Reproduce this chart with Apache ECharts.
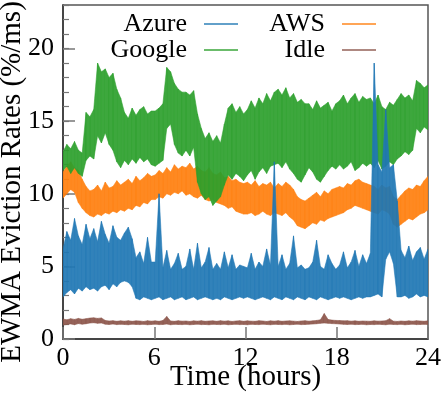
<!DOCTYPE html>
<html>
<head>
<meta charset="utf-8">
<script src="https://cdn.jsdelivr.net/npm/echarts@6/dist/echarts.min.js"></script>
<style>
  html, body { margin: 0; padding: 0; background: #fff; }
  #chart { width: 444px; height: 395px; }
</style>
</head>
<body>
<div id="chart"></div>
<script>
const azureHi = [
  6.2, 7.4, 6.8, 8.3, 7.1, 6.5, 7.9, 6.9,
  7.6, 6.7, 8.1, 7.2, 6.6, 7.8, 7.0, 6.8,
  7.3, 7.7, 6.9, 5.6, 6.0, 5.2, 7.0, 5.3,
  5.3, 10.0, 4.9, 6.1, 4.8, 5.2, 5.9, 4.8,
  5.0, 6.2, 4.8, 6.6, 4.9, 5.3, 6.3, 4.8,
  5.2, 4.8, 6.0, 4.9, 5.8, 4.8, 5.1, 5.0,
  4.9, 5.9, 4.8, 5.3, 5.0, 6.2, 5.1, 12.2,
  5.0, 5.8, 4.8, 5.2, 7.1, 4.9, 5.1, 4.8,
  4.9, 5.3, 6.8, 5.0, 4.8, 5.8, 5.2, 4.8,
  5.1, 6.0, 4.9, 5.3, 6.1, 5.0, 5.8, 5.2,
  5.9, 19.0, 12.0, 11.5, 15.8, 11.8, 12.0, 9.5,
  6.1, 5.6, 6.4, 5.4, 6.0, 6.3, 5.5, 6.2
];
const azureLo = [
  2.9, 3.2, 3.4, 3.1, 3.5, 3.3, 3.6, 3.4,
  3.5, 3.3, 3.6, 3.7, 3.4, 3.8, 3.6, 3.9,
  4.0, 3.9, 3.6, 2.8, 2.7, 2.9, 2.8, 2.7,
  2.8, 2.9, 2.7, 2.8, 2.9, 2.7, 2.8, 2.9,
  2.7, 2.8, 2.9, 2.7, 2.8, 2.9, 2.8, 2.7,
  2.8, 2.7, 2.9, 2.8, 2.7, 2.8, 2.9, 2.8,
  2.9, 2.8, 2.7, 2.8, 2.9, 2.8, 2.7, 2.9,
  2.8, 2.7, 2.9, 2.8, 2.7, 2.9, 2.8, 2.7,
  2.9, 2.8, 2.7, 2.9, 2.8, 2.7, 2.8, 2.9,
  2.8, 2.9, 2.8, 2.7, 2.8, 2.9, 2.8, 2.9,
  2.9, 3.0, 3.1, 2.9, 5.5, 6.0, 5.2, 2.9,
  2.9, 3.0, 2.8, 2.9, 3.1, 2.9, 3.0, 2.9
];

const awsHi = [
  11.5, 11.9, 12.2, 11.8, 11.6, 11.0, 10.5, 10.2,
  10.3, 10.6, 10.2, 10.8, 10.4, 10.5, 10.9, 10.6,
  10.8, 11.0, 10.7, 11.2, 10.9, 11.1, 11.4, 11.2,
  11.3, 11.6, 11.4, 11.8, 11.5, 12.0, 11.7, 11.9,
  11.8, 12.1, 11.7, 11.9, 11.6, 11.5, 11.8, 11.4,
  11.3, 11.5, 11.1, 11.2, 10.9, 11.0, 10.8, 10.7,
  10.8, 10.6, 10.9, 10.5, 10.7, 10.6, 10.8, 10.4,
  10.7, 10.5, 10.8, 10.6, 10.3, 9.8, 9.6, 9.5,
  9.7, 9.9, 10.1, 9.8, 10.2, 10.0, 10.3, 10.4,
  10.5, 10.4, 10.7, 10.6, 10.9, 11.0, 10.8, 10.7,
  10.6, 10.5, 10.3, 10.6, 10.4, 10.5, 9.8, 9.6,
  9.9, 10.2, 10.4, 10.3, 10.6, 10.5, 10.9, 11.2
];
const awsLo = [
  9.7, 10.0, 10.3, 10.1, 9.4, 9.0, 8.7, 8.5,
  8.4, 8.6, 8.5, 8.7, 8.6, 8.8, 8.7, 8.9,
  8.8, 9.0, 8.9, 9.2, 9.1, 9.4, 9.3, 9.6,
  9.6, 9.8, 9.7, 10.0, 9.9, 10.1, 10.0, 10.2,
  9.9, 10.0, 9.8, 9.7, 9.9, 9.6, 9.5, 9.6,
  9.4, 9.3, 9.2, 9.0, 9.1, 8.8, 8.7, 8.6,
  8.6, 8.7, 8.5, 8.6, 8.8, 8.6, 8.5, 8.7,
  8.6, 8.5, 8.7, 8.4, 8.2, 7.8, 7.7, 7.6,
  7.8, 8.0, 7.9, 8.2, 8.1, 8.3, 8.4, 8.5,
  8.6, 8.7, 8.9, 9.0, 9.2, 9.1, 9.0, 8.9,
  8.8, 8.7, 8.6, 8.9, 8.8, 8.6, 7.9, 7.7,
  7.9, 8.1, 8.3, 8.2, 8.4, 8.6, 8.7, 8.9
];

const googleHi = [
  12.9, 13.4, 13.1, 13.6, 13.0, 12.8, 15.6, 15.3,
  15.8, 19.0, 18.4, 18.6, 18.0, 18.3, 17.2, 16.6,
  15.6, 15.2, 15.9, 15.4, 15.8, 16.0, 15.5, 15.7,
  15.7, 15.9, 16.2, 18.7, 18.4, 17.6, 17.2, 17.0,
  17.0, 16.8, 17.1, 15.5, 14.5, 13.8, 14.2, 13.6,
  14.0, 13.5, 14.8, 15.9, 16.2, 15.6, 16.0, 15.5,
  15.8, 16.4, 15.9, 16.6, 16.2, 16.9, 16.4, 17.0,
  17.2, 16.8, 17.3, 16.6, 16.9, 16.3, 16.5, 16.2,
  16.2, 15.8, 16.4, 15.9, 16.1, 16.3, 15.7, 16.2,
  16.4, 16.8, 16.2, 16.6, 16.9, 16.3, 16.7, 16.5,
  16.6, 16.2, 16.8, 16.0, 15.8, 16.3, 16.1, 16.5,
  16.9, 16.6, 16.8, 16.4, 17.8, 17.6, 17.3, 17.5
];
const googleLo = [
  11.6, 11.9, 11.4, 11.8, 11.4, 11.2, 12.3, 12.6,
  12.4, 14.0, 13.5, 14.2, 13.4, 13.0, 12.2, 11.8,
  12.3, 12.0, 12.4, 12.1, 12.5, 12.2, 12.4, 12.0,
  11.9, 12.1, 12.3, 14.5, 14.8, 13.4, 12.8, 12.6,
  13.0, 12.6, 13.2, 10.8, 10.0, 9.6, 9.8, 9.2,
  9.5, 9.8, 10.6, 11.3, 11.0, 11.4, 11.2, 10.9,
  11.3, 11.6, 11.0, 11.5, 11.8, 11.4, 11.9, 12.0,
  12.1, 11.8, 12.2, 11.7, 11.4, 11.0, 10.8, 11.3,
  11.8, 11.5, 11.0, 10.8, 11.2, 11.6, 11.9, 11.7,
  12.0, 11.7, 11.9, 12.2, 11.6, 11.8, 12.1, 11.9,
  12.1, 11.8, 12.3, 11.7, 11.9, 12.2, 12.0, 12.4,
  12.6, 12.9, 12.7, 13.0, 14.5, 14.2, 14.6, 14.4
];

const idleHi = [
  1.38, 1.32, 1.40, 1.35, 1.42, 1.36, 1.40, 1.44,
  1.46, 1.42, 1.45, 1.28, 1.24, 1.26, 1.22, 1.25,
  1.23, 1.26, 1.22, 1.25, 1.24, 1.21, 1.26, 1.23,
  1.25, 1.22, 1.27, 1.55, 1.24, 1.22, 1.26, 1.23,
  1.24, 1.21, 1.25, 1.23, 1.26, 1.22, 1.24, 1.25,
  1.22, 1.26, 1.23, 1.25, 1.21, 1.24, 1.26, 1.22,
  1.25, 1.23, 1.22, 1.26, 1.24, 1.21, 1.25, 1.23,
  1.26, 1.22, 1.24, 1.25, 1.23, 1.21, 1.24, 1.26,
  1.23, 1.25, 1.28, 1.32, 1.75, 1.34, 1.30, 1.28,
  1.27, 1.25, 1.26, 1.23, 1.25, 1.22, 1.24, 1.23,
  1.22, 1.25, 1.23, 1.24, 1.26, 1.40, 1.23, 1.21,
  1.24, 1.22, 1.25, 1.23, 1.26, 1.24, 1.22, 1.25
];
const idleLo = [
  0.96, 1.00, 1.04, 0.98, 1.06, 1.02, 1.05, 1.10,
  1.12, 1.08, 1.10, 1.02, 1.00, 1.03, 0.99, 1.01,
  1.00, 0.98, 1.02, 1.00, 0.99, 1.01, 0.98, 1.00,
  1.02, 0.99, 1.00, 1.03, 0.98, 1.01, 1.00, 0.99,
  1.01, 0.98, 1.00, 1.02, 0.99, 1.00, 0.98, 1.01,
  1.00, 0.99, 1.02, 0.98, 1.00, 1.01, 0.99, 1.00,
  0.98, 1.01, 1.00, 0.99, 1.02, 1.00, 0.98, 1.01,
  1.00, 0.99, 1.01, 0.98, 1.00, 1.02, 0.99, 1.00,
  1.02, 1.03, 1.05, 1.08, 1.10, 1.08, 1.06, 1.05,
  1.03, 1.01, 1.00, 1.02, 0.99, 1.00, 1.01, 0.98,
  1.00, 0.99, 1.01, 1.00, 0.98, 1.02, 1.00, 0.99,
  1.01, 0.98, 1.00, 1.02, 0.99, 1.00, 1.01, 0.99
];

const xTicks = [0, 6, 12, 18, 24];
const yTicks = [0, 5, 10, 15, 20];
const hours = 24;

const colors = {
  azure: '#1f77b4',
  aws: '#ff7f0e',
  google: '#2ca02c',
  idle: '#8c564b',
  frame: '#555',
  tick: '#777'
};
const serif = '"Liberation Serif", "DejaVu Serif", serif';

function binTime(i, n) {
  return i * hours / (n - 1);
}

// filled band between the low and high envelope, one quad per bin step
function bandSeries(name, lo, hi, color, z) {
  const n = lo.length;
  const data = lo.map((v, i) => [binTime(i, n), v, hi[i]]);
  return {
    name: name, type: 'custom', z: z, silent: true, clip: true,
    color: color, itemStyle: { color: color },
    encode: { x: 0, y: [1, 2] },
    data: data,
    renderItem: function (params, api) {
      const i = params.dataIndex;
      if (i >= n - 1) return;
      const a = data[i], b = data[i + 1];
      const pts = [
        api.coord([a[0], a[1]]), api.coord([a[0], a[2]]),
        api.coord([b[0], b[2]]), api.coord([b[0], b[1]])
      ];
      return {
        type: 'polygon', shape: { points: pts },
        style: { fill: color, stroke: color, lineWidth: 0.6, opacity: 0.92 }
      };
    }
  };
}

function legendItem(name, right, top) {
  return {
    data: [name], right: right, top: top, padding: 0,
    align: 'right', icon: 'rect', itemWidth: 34, itemHeight: 2,
    selectedMode: false,
    itemStyle: { opacity: 0.7 },
    textStyle: { fontFamily: serif, fontSize: 26, color: '#000', padding: [0, 12, 0, 0] }
  };
}

const chart = echarts.init(document.getElementById('chart'));
chart.setOption({
  animation: false,
  backgroundColor: '#fff',
  textStyle: { fontFamily: serif },
  grid: {
    left: 63, right: 16, top: 5, bottom: 56,
    outerBoundsMode: 'none',
    show: true, borderColor: colors.frame, borderWidth: 1.5
  },
  legend: [
    legendItem('Azure', 206, 11),
    legendItem('Google', 206, 37),
    legendItem('AWS', 68, 11),
    legendItem('Idle', 68, 37)
  ],
  xAxis: {
    type: 'value', min: xTicks[0], max: xTicks[xTicks.length - 1], interval: 6,
    name: 'Time (hours)', nameLocation: 'middle', nameGap: 24, nameMoveOverlap: false,
    nameTextStyle: { fontFamily: serif, fontSize: 29, color: '#000' },
    axisLine: { lineStyle: { color: '#333', width: 1.5 } },
    axisTick: { inside: true, length: 12, lineStyle: { color: colors.tick, width: 1.5 } },
    axisLabel: { fontFamily: serif, fontSize: 26, color: '#000', margin: 6 },
    splitLine: { show: false }
  },
  yAxis: [
    {
      type: 'value', min: yTicks[0], max: 23, interval: 5,
      name: 'EWMA Eviction Rates (%/ms)', nameLocation: 'middle', nameGap: 36, nameMoveOverlap: false,
      nameTextStyle: { fontFamily: serif, fontSize: 29, color: '#000', padding: [0, 20, 0, 0] },
      axisLine: { lineStyle: { color: '#333', width: 1.5 } },
      axisTick: { inside: true, length: 12, lineStyle: { color: colors.tick, width: 1.5 } },
      axisLabel: { fontFamily: serif, fontSize: 26, color: '#000', margin: 9, showMaxLabel: false },
      splitLine: { show: false }
    },
    {
      // minor ticks every 1 unit
      type: 'value', min: 0, max: 23, interval: 1, position: 'left',
      axisLine: { show: false },
      axisTick: { inside: true, length: 6, lineStyle: { color: colors.tick, width: 1.2 } },
      axisLabel: { show: false },
      splitLine: { show: false }
    }
  ],
  series: [
    bandSeries('AWS', awsLo, awsHi, colors.aws, 2),
    bandSeries('Google', googleLo, googleHi, colors.google, 3),
    bandSeries('Azure', azureLo, azureHi, colors.azure, 4),
    bandSeries('Idle', idleLo, idleHi, colors.idle, 5)
  ]
});
</script>
</body>
</html>
